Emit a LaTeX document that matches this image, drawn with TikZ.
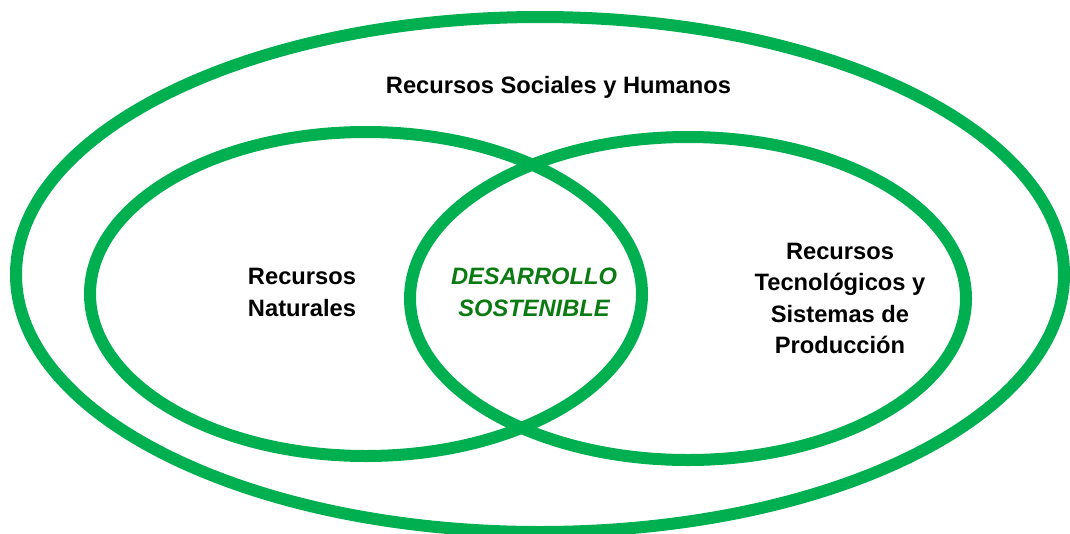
\documentclass[tikz,border=0pt]{standalone}
\usepackage{fontspec}
\setmainfont{Liberation Sans}
\definecolor{ringgreen}{RGB}{0,176,80}
\definecolor{textgreen}{RGB}{12,122,18}
\begin{document}
\begin{tikzpicture}[x=1pt,y=-1pt,
  ring/.style={draw=ringgreen,line width=12pt},
  lbl/.style={font=\fontsize{23.7}{31.5}\selectfont\bfseries,align=center,inner sep=0pt,text=black},
  core/.style={lbl,font=\fontsize{23.7}{31.5}\selectfont\bfseries\itshape,text=textgreen}]
\useasboundingbox (0,0) rectangle (1070,533);
\draw[ring] (540,274.5) ellipse [x radius=524, y radius=257.5];
\draw[ring] (366,294) ellipse [x radius=276, y radius=162];
\draw[ring] (688,298.5) ellipse [x radius=278, y radius=161.5];
\node[lbl,anchor=base] (social) at (558.5,93) {Recursos Sociales y Humanos};
\node[lbl] (natural) at (302,292.5) {Recursos\\Naturales};
\node[core] (desarrollo) at (534,292.5) {DESARROLLO\\SOSTENIBLE};
\node[lbl] (tecno) at (840,298.5) {Recursos\\Tecnológicos y\\Sistemas de\\Producción};
\end{tikzpicture}
\end{document}
